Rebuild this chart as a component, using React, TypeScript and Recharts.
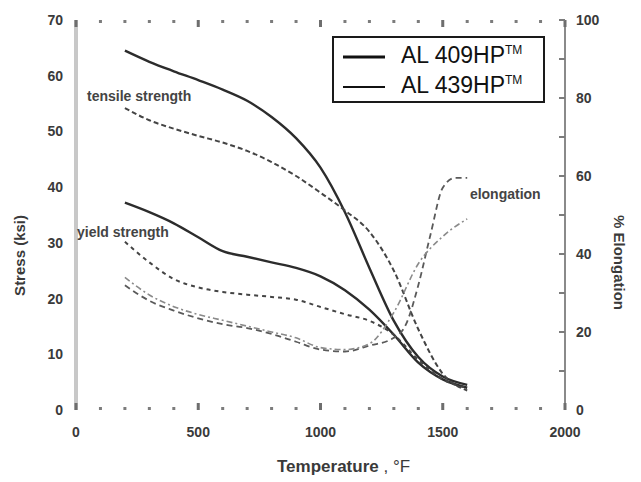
import React from "react";
import { LineChart, Line, XAxis, YAxis, Legend, ReferenceDot } from "recharts";

// ── data ─────────────────────────────────────────────────────────────────────
const TEMPS = [200, 300, 400, 500, 600, 700, 800, 900, 1000, 1100, 1200, 1300, 1400, 1500, 1600];
const TENSILE_409 = [64.5, 62.5, 60.8, 59.2, 57.5, 55.5, 52.6, 48.8, 43.5, 35.5, 25.5, 16, 9.5, 6, 4.5];
const TENSILE_439 = [54.2, 52, 50.5, 49.2, 48, 46.5, 44.5, 42, 39, 35.8, 32, 25, 14.5, 6.5, 3.5];
const YIELD_409 = [37.2, 35.5, 33.5, 31, 28.5, 27.5, 26.5, 25.5, 24, 21.5, 18, 13.5, 8.5, 5.5, 4];
const YIELD_439 = [30.2, 26.5, 23.5, 22, 21.2, 20.7, 20.3, 19.8, 18.5, 17.2, 16, 13.5, 9, 5.5, 4];
const ELONG_409_TEMPS = [200, 300, 400, 500, 600, 700, 800, 900, 1000, 1100, 1200, 1300, 1350, 1400, 1450, 1500, 1550, 1600];
const ELONG_409 = [32, 28, 25.5, 23.5, 22, 21, 19.5, 17.5, 15.5, 15, 16.5, 18.5, 22, 32, 45, 57, 59.5, 59.5];
const ELONG_439 = [34, 29.5, 26.5, 24.5, 23, 21.5, 20, 18.5, 16, 15.5, 17, 25, 37.5, 44.5, 49];

const X_TICKS = Array.from({ length: 21 }, (_, i) => i * 100);
const STRESS_TICKS = [0, 10, 20, 30, 40, 50, 60, 70];
const ELONG_TICKS = [0, 10, 20, 30, 40, 50, 60, 70, 80, 90, 100];

const LEGEND = [
  { name: "AL 409HP", width: 3.2 },
  { name: "AL 439HP", width: 1.8 },
];

const NOTES = [
  { text: "tensile strength", t: 45, v: 56.4 },
  { text: "yield strength", t: 4, v: 31.9 },
  { text: "elongation", t: 1611, v: 38.8 },
];

// merge the series into one table keyed by temperature
const rows = new Map<number, Record<string, number>>();
function put(key: string, temps: number[], vals: number[]) {
  temps.forEach((t, i) => {
    const r = rows.get(t) ?? { t };
    r[key] = vals[i];
    rows.set(t, r);
  });
}
put("ts409", TEMPS, TENSILE_409);
put("ts439", TEMPS, TENSILE_439);
put("ys409", TEMPS, YIELD_409);
put("ys439", TEMPS, YIELD_439);
put("el409", ELONG_409_TEMPS, ELONG_409);
put("el439", TEMPS, ELONG_439);
const data = [...rows.values()].sort((a, b) => a.t - b.t);

const FONT = "'Liberation Sans', Arial, sans-serif";
const TICK_TXT = { fontFamily: FONT, fontSize: 14, fontWeight: 700, fill: "#3a3a3a" };

// little marks along the top and bottom edges (every 100 °F, taller every 500)
function mark(x: number, y: number, v: number, down: boolean) {
  const major = v % 500 === 0;
  const h = major ? 7 : 3;
  return (
    <rect
      x={x - 1.5}
      y={down ? y : y - h}
      width={3}
      height={h}
      fill={major ? "#6e6e6e" : "#7c7c7c"}
    />
  );
}

function BottomTick(props: any) {
  const { x, y, payload } = props;
  const v = payload.value;
  return (
    <g>
      {mark(x, y, v, false)}
      {v % 500 === 0 && (
        <text x={x} y={y + 27} textAnchor="middle" {...TICK_TXT}>
          {v}
        </text>
      )}
    </g>
  );
}

function TopTick(props: any) {
  const { x, y, payload } = props;
  return <g>{mark(x, y, payload.value, true)}</g>;
}

function LeftTick({ x, y, payload }: any) {
  return (
    <text x={x - 13} y={y + 5} textAnchor="end" {...TICK_TXT}>
      {payload.value}
    </text>
  );
}

function RightTick({ x, y, payload }: any) {
  const v = payload.value;
  return (
    <g>
      {v > 0 && <rect x={x - 6} y={y - 1} width={6} height={2} fill="#7c7c7c" />}
      {v % 20 === 0 && (
        <text x={x + 11} y={y + 5} textAnchor="start" {...TICK_TXT}>
          {v}
        </text>
      )}
    </g>
  );
}

function LegendBox() {
  return (
    <svg width={213} height={67} style={{ display: "block" }}>
      <rect x={1} y={1} width={211} height={65} fill="#fff" stroke="#1a1a1a" strokeWidth={2} />
      {LEGEND.map((l, i) => (
        <g key={l.name}>
          <line x1={11} x2={53} y1={21 + i * 30} y2={21 + i * 30} stroke="#111" strokeWidth={l.width} />
          <text x={69} y={27 + i * 30} fontFamily={FONT} fontSize={23} fill="#111">
            {l.name}
            <tspan fontSize={12} dy={-9}>TM</tspan>
          </text>
        </g>
      ))}
    </svg>
  );
}

export default function App() {
  return (
    <div style={{ position: "absolute", left: 0, top: 0, width: 641, height: 482, background: "#fff" }}>
      <LineChart width={641} height={482} data={data} margin={{ top: 19, right: 36, bottom: 42, left: 36 }}>
        <XAxis
          xAxisId="top"
          orientation="top"
          type="number"
          dataKey="t"
          domain={[0, 2000]}
          ticks={X_TICKS}
          interval={0}
          height={1}
          axisLine={false}
          tickLine={false}
          tickSize={0}
          tickMargin={0}
          tick={(p: any) => <TopTick {...p} />}
        />
        <XAxis
          xAxisId="bottom"
          type="number"
          dataKey="t"
          domain={[0, 2000]}
          ticks={X_TICKS}
          interval={0}
          height={30}
          axisLine={false}
          tickLine={false}
          tickSize={0}
          tickMargin={0}
          tick={(p: any) => <BottomTick {...p} />}
          label={{
            content: () => (
              <text x={277} y={472} fontFamily={FONT} fontSize={17} fill="#3a3a3a">
                <tspan fontWeight={700}>Temperature</tspan>
                <tspan> , °F</tspan>
              </text>
            ),
          }}
        />
        <YAxis
          yAxisId="stress"
          domain={[0, 70]}
          ticks={STRESS_TICKS}
          interval={0}
          width={40}
          axisLine={{ stroke: "#c8c8c8", strokeWidth: 4 }}
          tickLine={false}
          tickSize={0}
          tickMargin={0}
          tick={<LeftTick />}
          label={{
            value: "Stress (ksi)",
            angle: -90,
            position: "left",
            offset: 16,
            style: { fontFamily: FONT, fontSize: 15, fontWeight: 700, fill: "#3a3a3a" },
          }}
        />
        <YAxis
          yAxisId="elong"
          orientation="right"
          domain={[0, 100]}
          ticks={ELONG_TICKS}
          interval={0}
          width={40}
          axisLine={{ stroke: "#8a8a8a", strokeWidth: 2 }}
          tickLine={false}
          tickSize={0}
          tickMargin={0}
          tick={<RightTick />}
          label={{
            value: "% Elongation",
            angle: 90,
            position: "right",
            offset: 14,
            style: { fontFamily: FONT, fontSize: 15, fontWeight: 700, fill: "#3a3a3a" },
          }}
        />
        <Legend
          layout="horizontal"
          verticalAlign="middle"
          align="center"
          wrapperStyle={{ left: 332, top: 36, width: 213, height: 67 }}
          content={() => <LegendBox />}
        />
        <Line xAxisId="bottom" yAxisId="stress" type="monotone" dataKey="ts409" name="AL 409HP tensile" stroke="#2c2c2c" strokeWidth={2.4} dot={false} connectNulls isAnimationActive={false} />
        <Line xAxisId="bottom" yAxisId="stress" type="monotone" dataKey="ys409" name="AL 409HP yield" stroke="#2c2c2c" strokeWidth={2.4} dot={false} connectNulls isAnimationActive={false} />
        <Line xAxisId="bottom" yAxisId="stress" type="monotone" dataKey="ts439" name="AL 439HP tensile" stroke="#444" strokeWidth={2} strokeDasharray="5 3" dot={false} connectNulls isAnimationActive={false} />
        <Line xAxisId="bottom" yAxisId="stress" type="monotone" dataKey="ys439" name="AL 439HP yield" stroke="#444" strokeWidth={2} strokeDasharray="4 4" dot={false} connectNulls isAnimationActive={false} />
        <Line xAxisId="bottom" yAxisId="elong" type="monotone" dataKey="el409" name="AL 409HP elongation" stroke="#5a5a5a" strokeWidth={1.8} strokeDasharray="6 4" dot={false} connectNulls isAnimationActive={false} />
        <Line xAxisId="bottom" yAxisId="elong" type="monotone" dataKey="el439" name="AL 439HP elongation" stroke="#8a8a8a" strokeWidth={1.6} strokeDasharray="6 3 2 3" dot={false} connectNulls isAnimationActive={false} />
        {NOTES.map((n) => (
          <ReferenceDot
            key={n.text}
            xAxisId="bottom"
            yAxisId="stress"
            x={n.t}
            y={n.v}
            r={0}
            fill="none"
            stroke="none"
            label={{
              value: n.text,
              position: "right",
              offset: 0,
              style: { fontFamily: FONT, fontSize: 14, fontWeight: 700, fill: "#444" },
            }}
          />
        ))}
      </LineChart>
    </div>
  );
}
